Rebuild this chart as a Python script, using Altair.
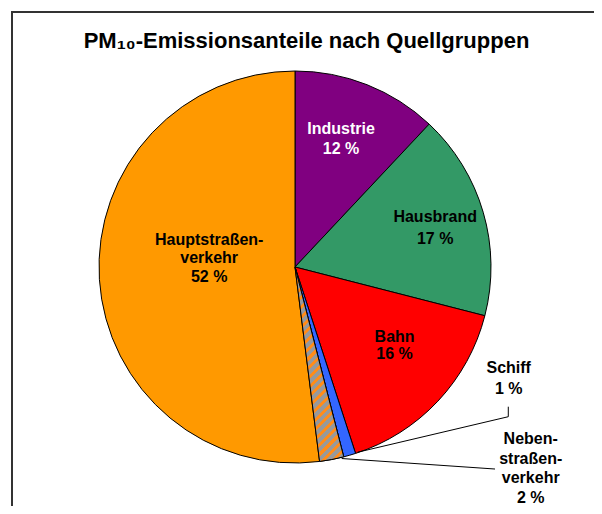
import math
import altair as alt
import pandas as pd

# ---- data ----
names = ["Industrie", "Hausbrand", "Bahn", "Schiff", "Nebenstraßenverkehr", "Hauptstraßenverkehr"]
values = [12, 17, 16, 1, 2, 52]
label_lines = [
    ["Industrie", "12 %"],
    ["Hausbrand", "17 %"],
    ["Bahn", "16 %"],
    ["Schiff", "1 %"],
    ["Neben-", "straßen-", "verkehr", "2 %"],
    ["Hauptstraßen-", "verkehr", "52 %"],
]
colors = ["#800080", "#339966", "#FF0000", "#3366FF", "#999999", "#FF9900"]
label_colors = ["#FFFFFF", "#000000", "#000000", "#000000", "#000000", "#000000"]
title_text = "PM₁₀-Emissionsanteile nach Quellgruppen"

# ---- layout / style ----
W, H = 574, 398
CX, CY = W / 2, H / 2
R = 196
FONT = "Liberation Sans"
total = sum(values)

df = pd.DataFrame({
    "name": names,
    "value": values,
    "order": list(range(len(names))),
    "label": ["\n".join(l) for l in label_lines],
    "lcolor": label_colors,
})

theta_scale = alt.Scale(domain=[0, total], range=[0, 2 * math.pi])
sx = alt.Scale(domain=[0, W], range=[0, W], nice=False, zero=False)
sy = alt.Scale(domain=[0, H], range=[0, H], nice=False, zero=False)

base = alt.Chart(df).transform_window(
    cum="sum(value)", sort=[alt.SortField("order")]
).transform_calculate(
    v0="datum.cum - datum.value",
    mid="datum.cum - datum.value / 2",
    ang=f"(datum.cum - datum.value / 2) / {total} * 2 * PI",
)

pie = base.mark_arc(radius=R, stroke="black", strokeWidth=1).encode(
    theta=alt.Theta("v0:Q", scale=theta_scale),
    theta2="cum:Q",
    fill=alt.Fill("name:N", scale=alt.Scale(domain=names, range=colors), legend=None),
)

# hatched slice (Nebenstraßenverkehr): diagonal stripes through a hard-stop gradient
hi = 4
a0 = sum(values[:hi]) / total * 2 * math.pi
a1 = sum(values[:hi + 1]) / total * 2 * math.pi
pts = [(0.0, 0.0)]
steps = 50
for i in range(steps + 1):
    a = a0 + (a1 - a0) * i / steps
    pts.append((R * math.sin(a), -R * math.cos(a)))
bw = max(p[0] for p in pts) - min(p[0] for p in pts)
bh = max(p[1] for p in pts) - min(p[1] for p in pts)
nx = ny = math.sqrt(0.5)
L = bw * nx + bh * ny
k = L / (nx * nx * bw * bw + ny * ny * bh * bh)
gx2, gy2 = k * nx * bw, k * ny * bh
period = 7.0
N = max(1, round(L / period))
stops = []
for j in range(N):
    stops += [
        alt.GradientStop(offset=j / N, color="#999999"),
        alt.GradientStop(offset=(j + 0.58) / N, color="#999999"),
        alt.GradientStop(offset=(j + 0.58) / N, color="#FF8C1A"),
        alt.GradientStop(offset=(j + 1) / N, color="#FF8C1A"),
    ]
hatch_fill = alt.LinearGradient(gradient="linear", stops=stops, x1=0, y1=0, x2=gx2, y2=gy2)

hatch = base.transform_filter(alt.datum.name == names[hi]).mark_arc(
    radius=R, stroke="black", strokeWidth=1, fill=hatch_fill
).encode(
    theta=alt.Theta("v0:Q", scale=theta_scale),
    theta2="cum:Q",
)

# label placement style: (radius, dx, dy, lineHeight)
label_style = {
    "Industrie": (136, -4, -1.5, 20),
    "Hausbrand": (146, 0, 2, 22),
    "Bahn": (127, 7, -8, 17),
    "Schiff": (196, 159, -76.5, 21),
    "Nebenstraßenverkehr": (196, 199, 9, 19.5),
    "Hauptstraßenverkehr": (86, 0, -14, 18.5),
}

text_layers = []
for nm, lc, lines in zip(names, label_colors, label_lines):
    r, dx, dy, lh = label_style[nm]
    dy_first = dy - (len(lines) - 1) * lh / 2  # first line sits at the anchor
    text_layers.append(
        base.transform_filter(alt.datum.name == nm).mark_text(
            radius=r, dx=dx, dy=dy_first, lineHeight=lh, lineBreak="\n",
            font=FONT, fontSize=16, fontWeight="bold", align="center",
            baseline="middle", color=lc,
        ).encode(
            theta=alt.Theta("mid:Q", scale=theta_scale),
            text="label:N",
        )
    )

# leader lines: segments as offsets from the slice's outer edge at its mid angle
leaders = {
    "Schiff": [((8, -3), (158.6, -38.5)), ((158.6, -38.5), (158.6, -48.5))],
    "Nebenstraßenverkehr": [((10, -1), (163.3, 9.5))],
}
leader_layers = []
for nm, segs in leaders.items():
    for (p0, p1) in segs:
        leader_layers.append(
            base.transform_filter(alt.datum.name == nm).transform_calculate(
                x0=f"{CX} + {R} * sin(datum.ang) + {p0[0]}",
                y0=f"{CY} - {R} * cos(datum.ang) + {p0[1]}",
                x1=f"{CX} + {R} * sin(datum.ang) + {p1[0]}",
                y1=f"{CY} - {R} * cos(datum.ang) + {p1[1]}",
            ).mark_rule(color="black", strokeWidth=1).encode(
                x=alt.X("x0:Q", scale=sx, axis=None),
                y=alt.Y("y0:Q", scale=sy, axis=None),
                x2="x1:Q",
                y2="y1:Q",
            )
        )

# outer frame (left and top edges; the rest lies beyond the picture)
frame_df = pd.DataFrame({"frame": [0]})
frame_left = alt.Chart(frame_df).mark_rect(color="#333333").encode(
    x=alt.value(3), x2=alt.value(5), y=alt.value(-57), y2=alt.value(H + 40)
)
frame_top = alt.Chart(frame_df).mark_rect(color="#333333").encode(
    x=alt.value(3), x2=alt.value(W + 12), y=alt.value(-57), y2=alt.value(-55)
)

title_df = pd.DataFrame({"title": [title_text]})
title_mark = alt.Chart(title_df).mark_text(
    font=FONT, fontSize=22, fontWeight="bold", color="black",
    align="center", baseline="alphabetic",
).encode(
    x=alt.value(CX + 11.5), y=alt.value(-20), text="title:N"
)

chart = alt.layer(
    frame_left, frame_top, pie, hatch, *leader_layers, *text_layers, title_mark
).properties(
    width=W,
    height=H,
    padding={"left": 0, "top": 60, "right": 12, "bottom": 40},
    autosize=alt.AutoSizeParams(type="none"),
).configure_view(strokeWidth=0)

chart.save("out.html", embed_options={"renderer": "svg", "actions": False})
